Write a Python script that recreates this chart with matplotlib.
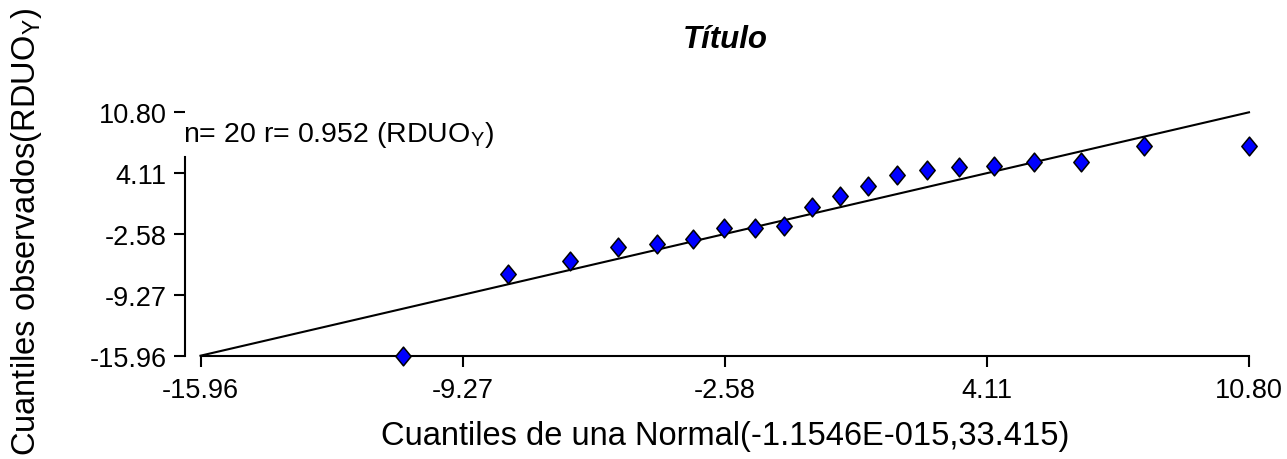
import numpy as np
import matplotlib
matplotlib.use("Agg")
from matplotlib import pyplot as plt
from matplotlib.path import Path

plt.rcParams['font.family'] = ['Liberation Sans', 'DejaVu Sans']
plt.rcParams['mathtext.fontset'] = 'custom'
plt.rcParams['mathtext.rm'] = 'Liberation Sans'

# normal quantiles (x) vs observed quantiles (y)
normal_q = [-10.80, -8.11, -6.52, -5.31, -4.30, -3.40, -2.59, -1.82, -1.08, -0.36,
            0.36, 1.08, 1.82, 2.59, 3.40, 4.30, 5.31, 6.52, 8.11, 10.80]
observed_q = [-15.96, -6.98, -5.52, -3.98, -3.68, -3.13, -1.95, -1.95, -1.67, 0.42,
              1.63, 2.73, 3.91, 4.49, 4.75, 4.86, 5.39, 5.39, 7.13, 7.13]
ticks = [-15.96, -9.27, -2.58, 4.11, 10.80]
tick_labels = ["-15.96", "-9.27", "-2.58", "4.11", "10.80"]
lo, hi = ticks[0], ticks[-1]

W, H = 1287, 460
fig = plt.figure(figsize=(W / 100, H / 100), dpi=100)
ax = fig.add_axes([200.5 / W, 1 - 356.7 / H, (1249 - 200.5) / W, (356.7 - 113.3) / H])

# identity line
ax.plot([lo, hi], [lo, hi], color='black', lw=1.5, zorder=2, clip_on=False)

diamond = Path([(0, 1), (0.82, 0), (0, -1), (-0.82, 0), (0, 1)],
               [Path.MOVETO, Path.LINETO, Path.LINETO, Path.LINETO, Path.CLOSEPOLY])
ax.plot(normal_q, observed_q, linestyle='none', marker=diamond, ms=13.5,
        mfc='#0000FF', mec='black', mew=1.1, zorder=3, clip_on=False)

ax.set_xlim(lo, hi)
ax.set_ylim(lo, hi)
ax.set_xticks(ticks)
ax.set_xticklabels(tick_labels)
ax.set_yticks(ticks)
ax.set_yticklabels(tick_labels)

for s in ['top', 'right']:
    ax.spines[s].set_visible(False)
ax.spines['left'].set_position(('outward', 11.5))
ax.spines['left'].set_bounds(lo, 5.9)
ax.spines['left'].set_linewidth(1.5)
ax.spines['bottom'].set_linewidth(1.5)
ax.tick_params(axis='both', direction='out', length=8, width=1.5,
               labelsize=19.5, pad=5)
ax.tick_params(axis='x', pad=7.5)

fig.text(725 / W, 1 - 40 / H, "Título", ha='center', va='center',
         fontsize=22.5, fontweight='bold', fontstyle='italic')
fig.text(183 / W, 1 - 141.7 / H, r"n= 20 r= 0.952 (RDUO$_{\mathrm{Y}}$)",
         ha='left', va='baseline', fontsize=20.5)
fig.text(725 / W, 1 - 437 / H, "Cuantiles de una Normal(-1.1546E-015,33.415)",
         ha='center', va='center', fontsize=23.5)
fig.text(27 / W, 1 - 232 / H, r"Cuantiles observados(RDUO$_{\mathrm{Y}}$)",
         ha='center', va='center', rotation=90, fontsize=23.5)

fig.savefig("out.png", dpi=100)
